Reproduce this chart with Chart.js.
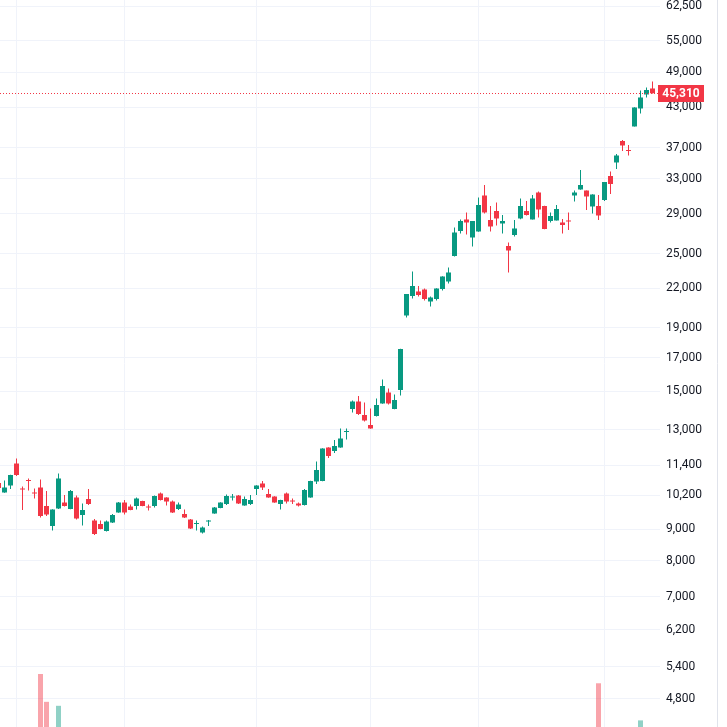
<!DOCTYPE html>
<html>
<head>
<meta charset="utf-8">
<script src="https://cdn.jsdelivr.net/npm/chart.js@4.4.1/dist/chart.umd.min.js"></script>
<style>
html,body{margin:0;padding:0;background:#ffffff;}
#wrap{width:727px;height:727px;position:relative;}
</style>
</head>
<body>
<div id="wrap"><canvas id="c"></canvas></div>
<script>
// bar number (position along the time axis)
const barIndex = [-1,0,1,2,3,4,5,6,7,8,9,10,11,12,13,14,15,16,17,18,19,20,21,22,23,24,25,26,27,28,29,30,31,32,33,34,35,36,37,38,39,40,41,42,43,44,45,46,47,48,49,50,51,52,53,54,55,56,57,58,59,60,61,62,63,64,65,66,67,68,69,70,71,72,73,74,75,76,77,78,79,80,81,82,83,84,85,86,87,88,89,90,91,92,93,94,95,96,97,98,99,100,101,102,103,104,105,106,107,108];

const opens  = [10680,10310,10581,11480,10464,10799,10310,10503,9807,9105,9716,9934,9698,10121,9485,10065,9293,9173,8939,9224,9573,9934,9788,9807,9990,9788,9807,10272,10121,9971,9698,9520,9328,9173,8889,9258,9537,9734,9879,10121,10196,9825,9879,10445,10660,10253,10158,9879,10272,10008,9898,9843,10121,10739,10759,12182,12024,12182,12902,14052,14447,13742,13241,13691,14341,14937,14052,15076,19873,21364,21723,21884,20931,21128,21925,22542,24779,27184,28370,26537,27134,31008,28316,29277,27951,25714,26784,28475,29277,28370,31355,29825,28211,28264,28055,28264,31008,31707,31588,29770,29825,30496,33334,35045,37952,36707,40050,42814,45095,46109];
const highs  = [10699,10779,11010,11695,10542,10860,10464,10819,10368,9690,11063,10215,10406,10196,9898,10445,9345,9293,9293,9520,9950,10027,9861,10121,10000,9861,10196,10310,10130,10008,9934,9680,9345,9293,9088,9310,9770,9940,10234,10253,10215,10158,10215,10590,10759,10445,10170,10035,10310,10083,9934,10445,10770,11565,12150,12190,12525,13071,13071,14501,14744,14394,14078,14609,15675,15161,14827,17560,21530,23394,22170,21965,21324,21980,22980,23744,27540,28370,29115,28220,30780,32240,29825,30215,28846,26049,28316,30666,30383,31066,31471,29840,29115,29936,28422,29115,31588,34084,31600,31140,31066,32610,33895,36167,38093,37394,43000,45768,46281,47321];
const lows   = [10464,10300,10445,10961,9662,10387,10083,9397,9450,8955,9700,9788,9690,9328,9122,9843,8807,9000,8922,9207,9560,9502,9655,9680,9800,9644,9752,10008,9825,9555,9662,9380,9005,8955,8856,9105,9530,9725,9843,10008,9879,9820,9843,10215,10406,10110,9925,9680,9898,9879,9788,9825,10110,10640,10750,11716,11936,12170,12548,13870,13742,13414,13060,13666,14330,14288,14040,14772,19726,21167,21324,21009,20547,21009,21804,22376,24733,26933,26834,25666,27120,29007,27134,27745,26933,23308,26636,28400,28790,28360,28581,27370,28055,28250,26933,27285,30327,31690,29386,29007,28316,30383,31181,34211,36571,35966,40030,42027,44596,45250];
const closes = [10484,10503,11001,11001,10425,10759,10272,9450,9502,9680,10860,9807,10368,9362,9662,9879,8840,9005,9258,9485,9934,9573,9662,10083,9807,9752,10177,10027,9971,9573,9861,9397,9021,9207,9055,9293,9752,9934,10177,10158,9898,10065,10027,10581,10503,10121,9934,10027,9971,9971,9825,10406,10759,11207,12137,11804,12250,12595,12950,14447,13793,13464,13071,14261,15302,14341,14528,17552,21522,22170,21443,21128,21245,21965,22965,23308,27033,28211,28055,28211,29936,29115,27642,28475,28211,25289,27438,29825,28846,30666,29441,27387,28740,29496,27796,28159,31355,32240,30894,31124,28793,32600,32360,35966,37324,36571,42973,44596,45853,45310];
// volume (relative units); only the tallest bars reach into the visible window, the rest are null
const volumes = [null,null,null,null,null,null,null,100,79,null,76,null,null,null,null,null,null,null,null,null,null,null,null,null,null,null,null,null,null,null,null,null,null,null,null,null,null,null,null,null,null,null,null,null,null,null,null,null,null,null,null,null,null,null,null,null,null,null,null,null,null,null,null,null,null,null,null,null,null,null,null,null,null,null,null,null,null,null,null,null,null,null,null,null,null,null,null,null,null,null,null,null,null,null,null,null,null,null,null,null,93,null,null,null,null,null,null,65,null,null];

// price axis labels and time grid positions
const yTickValues = [4800,5400,6200,7000,8000,9000,10200,11400,13000,15000,17000,19000,22000,25000,29000,33000,37000,43000,49000,55000,62500];
const timeGridBars = [2,20,42,61,79,100];

const UP = '#089981', DOWN = '#f23645';
const GRID = '#f0f3fa';
const isUp = closes.map((c, i) => c >= opens[i]);
const candleColors = isUp.map(u => u ? UP : DOWN);
const volColors = isUp.map(u => u ? 'rgba(8,153,129,0.45)' : 'rgba(242,54,69,0.45)');

const bodyData = barIndex.map((k, i) => ({ x: k, y: [opens[i], closes[i]] }));
const wickData = barIndex.map((k, i) => ({ x: k, y: [lows[i], highs[i]] }));
const volData  = barIndex.map((k, i) => ({ x: k, y: volumes[i] }));

const fmt = v => Number(v).toLocaleString('en-US');

const lastPricePlugin = {
  id: 'lastPrice',
  afterDatasetsDraw(chart) {
    const { ctx, chartArea, scales } = chart;
    const last = closes[closes.length - 1];
    const py = Math.round(scales.y.getPixelForValue(last)) + 0.5;
    ctx.save();
    ctx.strokeStyle = DOWN;
    ctx.lineWidth = 1;
    ctx.setLineDash([1, 2]);
    ctx.beginPath();
    ctx.moveTo(chartArea.left, py);
    ctx.lineTo(chartArea.right, py);
    ctx.stroke();
    ctx.restore();
  },
  afterDraw(chart) {
    const { ctx, chartArea, scales } = chart;
    const last = closes[closes.length - 1];
    const py = Math.round(scales.y.getPixelForValue(last));
    ctx.save();
    // separator at the right edge of the widget
    ctx.strokeStyle = '#e0e3eb';
    ctx.lineWidth = 1;
    ctx.beginPath();
    ctx.moveTo(717.5, 0);
    ctx.lineTo(717.5, chart.height);
    ctx.stroke();
    // last price label
    const bx = chartArea.right - 2, bw = 46, bh = 17;
    ctx.fillStyle = DOWN;
    ctx.fillRect(bx, py - 8, bw, bh);
    ctx.fillStyle = '#ffffff';
    ctx.font = 'bold 12px Roboto, "Liberation Sans", sans-serif';
    ctx.textAlign = 'center';
    ctx.textBaseline = 'middle';
    ctx.fillText(fmt(last), bx + bw / 2, py + 0.5);
    ctx.restore();
  }
};

new Chart(document.getElementById('c'), {
  type: 'bar',
  data: {
    datasets: [
      {
        label: 'volume', data: volData, yAxisID: 'yVol',
        backgroundColor: volColors, barThickness: 5, grouped: false,
        borderWidth: 0, inflateAmount: 0, order: 3
      },
      {
        label: 'wick', data: wickData, yAxisID: 'y',
        backgroundColor: candleColors, barThickness: 1, grouped: false,
        borderWidth: 0, inflateAmount: 0, minBarLength: 1, order: 2
      },
      {
        label: 'body', data: bodyData, yAxisID: 'y',
        backgroundColor: candleColors, barThickness: 5, grouped: false,
        borderWidth: 0, inflateAmount: 0, minBarLength: 1, order: 1
      }
    ]
  },
  options: {
    responsive: true,
    maintainAspectRatio: false,
    animation: false,
    devicePixelRatio: 1,
    layout: { padding: 0 },
    plugins: { legend: { display: false }, tooltip: { enabled: false } },
    scales: {
      x: {
        type: 'linear',
        min: -0.75, max: 109.25,
        offset: false,
        grid: { color: GRID, drawTicks: false, lineWidth: 1, offset: false },
        border: { display: false },
        ticks: { display: false },
        afterBuildTicks: s => { s.ticks = timeGridBars.map(v => ({ value: v })); },
        afterFit: s => { s.height = 0; }
      },
      y: {
        type: 'logarithmic',
        position: 'right',
        min: 4322, max: 64010,
        grid: { color: GRID, drawTicks: false, lineWidth: 1 },
        border: { display: false },
        ticks: {
          autoSkip: false,
          padding: 6,
          color: '#131722',
          font: { family: 'Roboto, "Liberation Sans", sans-serif', size: 12 },
          callback: v => fmt(v)
        },
        afterBuildTicks: s => { s.ticks = yTickValues.map(v => ({ value: v })); },
        afterFit: s => { s.width = 67; s.paddingTop = 0; s.paddingBottom = 0; }
      },
      yVol: {
        type: 'linear',
        display: false,
        min: 60, max: 608.7
      }
    }
  },
  plugins: [lastPricePlugin]
});
</script>
</body>
</html>
